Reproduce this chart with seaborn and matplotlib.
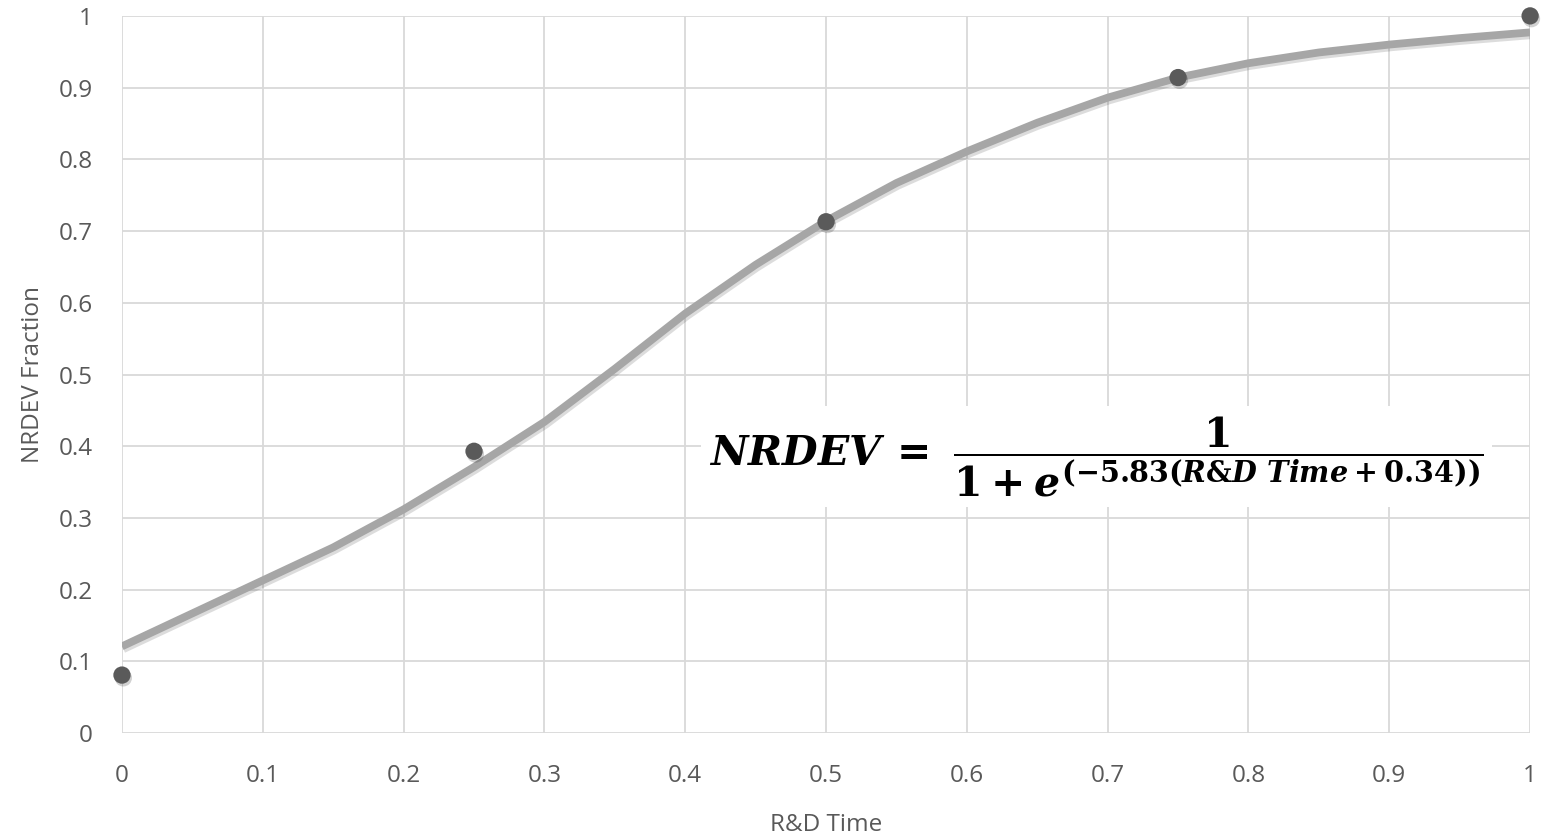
import matplotlib
matplotlib.use("Agg")
import matplotlib.pyplot as plt
import matplotlib.patheffects as pe
from matplotlib.ticker import FuncFormatter
import pandas as pd
import seaborn as sns

# observed points
rd_time = [0.0, 0.25, 0.5, 0.75, 1.0]
nrdev_frac = [0.081, 0.393, 0.713, 0.914, 1.0]

# smoothed trend line
curve_x = [0.0, 0.05, 0.1, 0.15, 0.2, 0.25, 0.3, 0.35, 0.4, 0.45, 0.5,
           0.55, 0.6, 0.65, 0.7, 0.75, 0.8, 0.85, 0.9, 0.95, 1.0]
curve_y = [0.121, 0.167, 0.213, 0.259, 0.312, 0.371, 0.434, 0.508, 0.585, 0.653, 0.714,
           0.767, 0.811, 0.851, 0.886, 0.914, 0.934, 0.949, 0.960, 0.969, 0.977]

x_ticks = [0, 0.1, 0.2, 0.3, 0.4, 0.5, 0.6, 0.7, 0.8, 0.9, 1]
y_ticks = [0, 0.1, 0.2, 0.3, 0.4, 0.5, 0.6, 0.7, 0.8, 0.9, 1]

TXT = "#595959"
GRID = "#d9d9d9"

sns.set_theme(style="white")
plt.rcParams["font.family"] = ["Open Sans", "DejaVu Sans"]
plt.rcParams["mathtext.fontset"] = "custom"
plt.rcParams["mathtext.it"] = "DejaVu Serif:italic:bold"
plt.rcParams["mathtext.rm"] = "DejaVu Serif:bold"
plt.rcParams["mathtext.bf"] = "DejaVu Serif:bold"

fig = plt.figure(figsize=(15.44, 8.36), dpi=100)
ax = fig.add_axes([0.079, 0.123, 0.912, 0.858])

pts = pd.DataFrame({"x": rd_time, "y": nrdev_frac})
trend = pd.DataFrame({"x": curve_x, "y": curve_y})

sns.lineplot(data=trend, x="x", y="y", ax=ax, color="#a6a6a6", lw=5.6,
             solid_capstyle="butt", solid_joinstyle="round", zorder=3,
             path_effects=[pe.SimpleLineShadow(offset=(1.0, -2.0), shadow_color="k", alpha=0.15),
                           pe.Normal()])
sns.scatterplot(data=pts, x="x", y="y", ax=ax, color="#5a5a5a", s=155,
                edgecolor="none", zorder=4, clip_on=False)
for coll in ax.collections:
    coll.set_path_effects([pe.SimplePatchShadow(offset=(1.0, -2.0), shadow_rgbFace="k", alpha=0.2),
                           pe.Normal()])

ax.set_xlim(0, 1)
ax.set_ylim(0, 1)
ax.set_xticks(x_ticks)
ax.set_yticks(y_ticks)
fmt = FuncFormatter(lambda v, p: f"{v:g}")
ax.xaxis.set_major_formatter(fmt)
ax.yaxis.set_major_formatter(fmt)
ax.grid(True, color=GRID, lw=1.3)
ax.set_axisbelow(True)
for s in ax.spines.values():
    s.set_visible(False)
ax.tick_params(axis="both", length=0, labelsize=17.5, labelcolor=TXT)
ax.tick_params(axis="x", pad=22)
ax.tick_params(axis="y", pad=21)

ax.set_xlabel("R&D Time", fontsize=17.5, color=TXT, labelpad=18)
ax.set_ylabel("NRDEV Fraction", fontsize=17.5, color=TXT, labelpad=10)

eq = r"$NRDEV\,=\ \dfrac{1}{1+e^{(-5.83(R&D\ Time+0.34))}}$"
ax.text(0.692, 0.386, eq, fontsize=29.5, color="black", ha="center", va="center",
        zorder=5, bbox=dict(facecolor="white", edgecolor="none", pad=6))

plt.savefig("out.png", dpi=100)
plt.close()
